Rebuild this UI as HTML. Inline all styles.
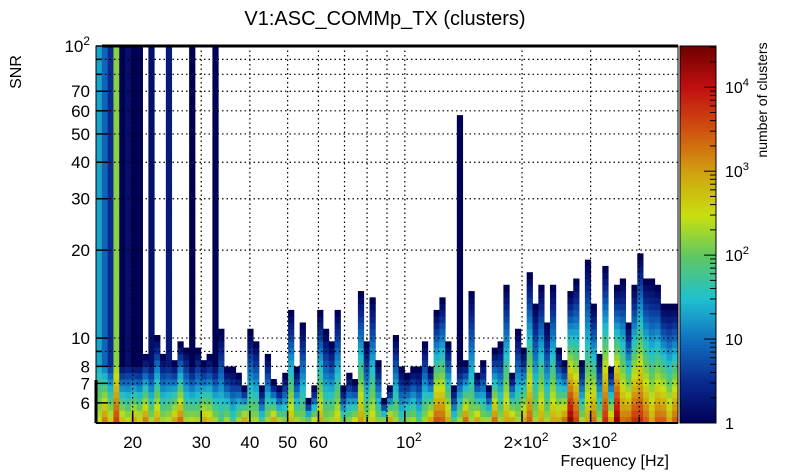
<!DOCTYPE html>
<html><head><meta charset="utf-8"><style>
html,body{margin:0;padding:0;background:#fff;}
svg{display:block;font-family:"Liberation Sans",sans-serif;}
</style></head><body>
<svg id="chart" width="805" height="472" viewBox="0 0 805 472" xmlns="http://www.w3.org/2000/svg">
<rect x="0" y="0" width="805" height="472" fill="#fff"/>
<text x="385" y="25" font-size="20" text-anchor="middle">V1:ASC_COMMp_TX (clusters)</text>
<text transform="translate(21,72) rotate(-90)" font-size="16" text-anchor="middle">SNR</text>
<text x="669" y="466" font-size="16" text-anchor="end">Frequency [Hz]</text>
<text transform="translate(767,100) rotate(-90)" font-size="14" text-anchor="middle">number of clusters</text>
<g id="cells"></g>
<g id="grid"></g>
<g id="axes"></g>
<g id="cbar"></g>
</svg>
<script>
// ---- data ----
const colTopSNR = [100,100,100,100,100,100,100,100,8.7,100,10.2,8.7,100,8.3,9.7,9.2,100,9.2,8.3,8.7,
100,10.6,7.9,7.9,7.5,6.8,10.6,9.7,6.8,8.7,7.2,6.8,7.5,12.4,7.9,11.2,6.2,6.8,12.4,10.6,
9.7,12.4,6.8,7.5,7.2,14.4,9.7,13.7,8.3,6.2,6.8,10.2,7.9,7.5,7.9,7.9,9.7,7.9,12.4,13.7,
9.7,6.8,57.5,8.3,14.4,7.5,8.3,6.8,9.2,9.7,15.1,7.5,10.6,9.2,16.7,13.0,15.1,11.1,15.1,9.2,
8.3,14.4,15.8,8.3,18.4,13.0,8.7,17.6,7.9,15.1,15.8,11.1,15.1,19.4,15.8,15.8,15.1,13.0,13.0,13.0];
const colBottomCount = [300,1500,400,4000,500,250,800,400,1500,200,800,200,250,800,2000,200,250,200,800,500,
200,80,200,60,200,800,200,200,60,200,800,200,150,600,200,150,100,300,800,150,
200,400,100,150,300,1000,200,400,150,150,800,200,60,150,200,60,200,800,3000,2500,
800,60,200,2000,200,800,200,200,2000,200,800,800,200,800,2500,200,800,200,800,800,
2000,20000,4000,200,800,2000,200,6000,800,20000,2000,2500,6000,6000,2500,800,2500,2500,800,2500];
const colTopCount = [20,8,3,150,1,1.5,1,1,1,1.5,1,1,2,1,1,1,1,1,1,1,
1,1,1,1,1,1,1,1,1,1,1,1,1,1,1,1,1,1,1,1,1,1,1,1,1,1,1,1,1,1,
1,1,1,1,1,1,1,1,1,1,1,1,1,1,1,1,1,1,1,1,1,1,1,1,1,1,1,1,1,1,
1,1,1,1,1,1,1,1,1,1,1,1,1,1,1,1,1,1,1,1];
const yTickValues = [6,7,8,10,20,30,40,50,60,70,100];
const yTickLabels = [["6",""],["7",""],["8",""],["10",""],["20",""],["30",""],["40",""],["50",""],["60",""],["70",""],["10","2"]];
const yGridValues = [6,7,8,9,10,20,30,40,50,60,70,80,90];
const xTickValues = [20,30,40,50,60,100,200,300];
const xTickLabels = [["20",""],["30",""],["40",""],["50",""],["60",""],["10","2"],["2×10","2"],["3×10","2"]];
const xGridValues = [20,30,40,50,60,70,80,90,100,200,300,400];
const cbTickValues = [1,10,100,1000,10000];
const cbTickLabels = [["1",""],["10",""],["10","2"],["10","3"],["10","4"]];

// ---- geometry ----
const PL=96, PR=678, PT=46, PB=423;
const XMIN=Math.log10(16.1), XMAX=Math.log10(503);
const YMIN=Math.log10(5.12), YMAX=2;
const NCOL=colTopSNR.length, NROW=60;
const xs = f => PL + (Math.log10(f)-XMIN)/(XMAX-XMIN)*(PR-PL);
const ys = s => PB - (Math.log10(s)-YMIN)/(YMAX-YMIN)*(PB-PT);
const CBL=680, CBR=716, CBMAX=Math.log10(31000);
const cby = c => PB - Math.log10(c)/CBMAX*(PB-PT);
const NS="http://www.w3.org/2000/svg";
const stops=[[0,[0,0,0x55]],[0.11,[0x0a,0x2a,0x90]],[0.22,[0x10,0x70,0xc0]],[0.33,[0x20,0xc0,0xd0]],
[0.445,[0x60,0xc8,0x60]],[0.55,[0xc8,0xe0,0x10]],[0.668,[0xd0,0xa0,0x10]],[0.78,[0xd0,0x50,0x10]],[0.89,[0xc0,0x10,0x10]],[1,[0x70,0,0]]];
function color(c){
  let f=Math.max(0,Math.min(1,Math.log10(Math.max(c,1))/CBMAX));
  for(let i=1;i<stops.length;i++){ if(f<=stops[i][0]){const a=stops[i-1],b=stops[i];const t=(f-a[0])/(b[0]-a[0]);
    const r=a[1].map((v,k)=>Math.round(v+(b[1][k]-v)*t));return `rgb(${r[0]},${r[1]},${r[2]})`;}}
  return 'rgb(112,0,0)';
}
function mk(tag,attrs,parent){const e=document.createElementNS(NS,tag);for(const k in attrs)e.setAttribute(k,attrs[k]);parent.appendChild(e);return e;}
function label(parent,x,y,parts,anchor,size){
  const t=mk('text',{x:x,y:y,'font-size':size,'text-anchor':anchor},parent);
  const a=document.createElementNS(NS,'tspan');a.textContent=parts[0];t.appendChild(a);
  if(parts[1]){const b=document.createElementNS(NS,'tspan');b.setAttribute('dy','-7');b.setAttribute('font-size',size*0.7);b.textContent=parts[1];t.appendChild(b);}
  return t;
}

// ---- cells ----
const cells=document.getElementById('cells');
const colW=(PR-PL)/NCOL, rowH=(PB-PT)/NROW;
for(let i=0;i<NCOL;i++){
  const topRow=Math.min(NROW-1,Math.floor((Math.log10(colTopSNR[i])-YMIN)/(YMAX-YMIN)*NROW));
  const lb=Math.log10(colBottomCount[i]), lt=Math.log10(colTopCount[i]);
  const span=Math.max(1,topRow>40?9:topRow);
  const slope=(lb-lt)/span;
  for(let r=0;r<=topRow;r++){
    const lc=Math.max(lt,lb-r*slope);
    const e=mk('rect',{x:(PL+i*colW).toFixed(2),y:(PB-(r+1)*rowH).toFixed(2),width:(colW+0.4).toFixed(2),height:(rowH+0.4).toFixed(2),fill:color(Math.pow(10,lc))},cells);
    
    
  }
}
// ---- grid ----
const grid=document.getElementById('grid');
yGridValues.forEach(v=>{const e=mk('line',{x1:PL,x2:PR,y1:ys(v),y2:ys(v),stroke:'#000','stroke-width':1.2,'stroke-dasharray':'1.5,3'},grid);
  
  });
xGridValues.forEach(v=>{const e=mk('line',{x1:xs(v),x2:xs(v),y1:PT,y2:PB,stroke:'#000','stroke-width':1.2,'stroke-dasharray':'1.5,3'},grid);
  
  });
// ---- axes ----
const axes=document.getElementById('axes');
let fr=mk('rect',{x:PL,y:PT,width:PR-PL,height:PB-PT,fill:'none',stroke:'#000','stroke-width':1},axes);


mk('line',{x1:102,x2:PR,y1:PT,y2:PT,stroke:'#000','stroke-width':3},axes);
mk('line',{x1:PL,x2:PL,y1:380,y2:PB,stroke:'#000','stroke-width':3},axes);
mk('line',{x1:PL,x2:PR,y1:PB,y2:PB,stroke:'#000','stroke-width':2},axes);
yGridValues.concat([100]).forEach(v=>{mk('line',{x1:PL,x2:PL+(yTickValues.includes(v)?12:6),y1:ys(v),y2:ys(v),stroke:'#000','stroke-width':1.5},axes);});
yTickValues.forEach((v,i)=>{const t=label(axes,PL-6,ys(v)+6,yTickLabels[i],'end',17);
  
  });
xGridValues.forEach(v=>{mk('line',{x1:xs(v),x2:xs(v),y1:PB,y2:PB-(xTickValues.includes(v)?12:6),stroke:'#000','stroke-width':1.5},axes);});
xTickValues.forEach((v,i)=>{const t=label(axes,xs(v)+(xTickLabels[i][1]?4:0),PB+25,xTickLabels[i],'middle',17);
  
  });
// ---- colorbar ----
const cb=document.getElementById('cbar');
const N=120;
for(let k=0;k<N;k++){const c0=Math.pow(10,CBMAX*k/N);
  const e=mk('rect',{x:CBL,y:(PB-(k+1)*(PB-PT)/N).toFixed(2),width:CBR-CBL,height:((PB-PT)/N+0.5).toFixed(2),fill:color(c0*Math.pow(10,CBMAX/N/2))},cb);
  
  }
mk('rect',{x:CBL,y:PT,width:CBR-CBL,height:PB-PT,fill:'none',stroke:'#000','stroke-width':1},cb);
for(let d=0;d<5;d++)for(let m=1;m<10;m++){const c=m*Math.pow(10,d);if(c>31000)break;
  mk('line',{x1:CBR,x2:CBR-(m===1?12:6),y1:cby(c),y2:cby(c),stroke:'#000','stroke-width':1},cb);}
cbTickValues.forEach((v,i)=>{const t=label(cb,CBR+9,cby(v)+6,cbTickLabels[i],'start',16);
  
  });
</script>
</body></html>
